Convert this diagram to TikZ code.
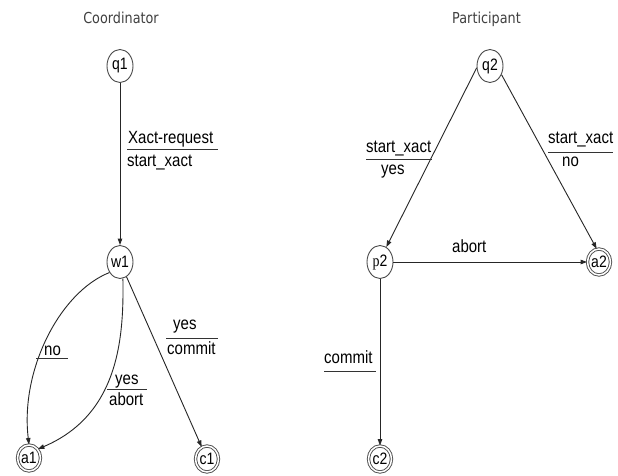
\documentclass[tikz,border=0pt]{standalone}
\usepackage{fontspec}
\usepackage{graphicx}
\setmainfont{Liberation Sans}
\newfontfamily\titlefont{DejaVu Sans}
\newfontfamily\seriffont{Liberation Serif}
\usetikzlibrary{shapes.geometric,arrows.meta}
\newcommand{\vst}[1]{\scalebox{1}[1.18]{#1}}
\begin{document}
\begin{tikzpicture}[x=1pt,y=-1pt,
  st/.style={ellipse,draw=black!70,line width=0.9pt,minimum width=26pt,minimum height=33pt,inner sep=0pt,font=\fontsize{14}{14}\selectfont},
  fin/.style={st,double,double distance=1.5pt,minimum width=23pt,minimum height=26pt},
  tr/.style={draw=black!85,line width=0.9pt,-{Triangle[length=6.5pt,width=4.5pt]}},
  lab/.style={anchor=base west,inner sep=0pt,font=\fontsize{15}{15}\selectfont},
  bar/.style={draw=black!80,line width=0.9pt},
  ttl/.style={anchor=base,inner sep=0pt,text=black!75,font=\titlefont\fontsize{12.8}{13}\selectfont}]
\useasboundingbox (0,0) rectangle (618,476);
\fill[white] (0,0) rectangle (618,476);
% titles
\node[ttl] (tc) at (121,24) {\vst{Coordinator}};
\node[ttl] (tp) at (486.5,24) {\vst{Participant}};
% states
\node[st] (q1) at (120,66) {\vst{q1}};
\node[st] (w1) at (120,262) {\vst{w1}};
\node[fin] (a1) at (29,458) {\vst{a1}};
\node[fin] (c1) at (207,459) {\vst{c1}};
\node[st] (q2) at (490,66) {\vst{q2}};
\node[st] (p2) at (380,262) {\vst{{\seriffont p}2}};
\node[fin] (a2) at (599,262) {\vst{a2}};
\node[fin] (c2) at (380,459) {\vst{c2}};
% transitions
\draw[tr] (q1) -- (w1);
\draw[tr] (w1.-135) .. controls (60,292) and (20,370) .. (a1.north);
\draw[tr] (w1.-80) .. controls (124,340) and (118,415) .. (a1.45);
\draw[tr] (w1) -- (c1);
\draw[tr] (q2.-172) -- (p2.67);
\draw[tr] (q2.-37) -- (a2.100);
\draw[tr] (p2) -- (a2);
\draw[tr] (p2) -- (c2);
% labels coordinator
\node[lab] (l1a) at (128,143) {\vst{Xact-request}};
\draw[bar] (127,149) -- (218,149);
\node[lab] (l1b) at (127,166) {\vst{start\_xact}};
\node[lab] (l2) at (44,355) {\vst{no}};
\draw[bar] (36,358) -- (68,358);
\node[lab] (l3a) at (115,384) {\vst{yes}};
\draw[bar] (107,389) -- (147,389);
\node[lab] (l3b) at (109,405) {\vst{abort}};
\node[lab] (l4a) at (173,329) {\vst{yes}};
\draw[bar] (166,338) -- (218,338);
\node[lab] (l4b) at (167,354) {\vst{commit}};
% labels participant
\node[lab] (l5a) at (366,152) {\vst{start\_xact}};
\draw[bar] (366,159) -- (432,159);
\node[lab] (l5b) at (381,174) {\vst{yes}};
\node[lab] (l6a) at (548,143) {\vst{start\_xact}};
\draw[bar] (548,152) -- (613,152);
\node[lab] (l6b) at (562,166) {\vst{no}};
\node[lab] (l7) at (452,252) {\vst{abort}};
\node[lab] (l8) at (324,363) {\vst{commit}};
\draw[bar] (324,371) -- (376,371);
\end{tikzpicture}
\end{document}
